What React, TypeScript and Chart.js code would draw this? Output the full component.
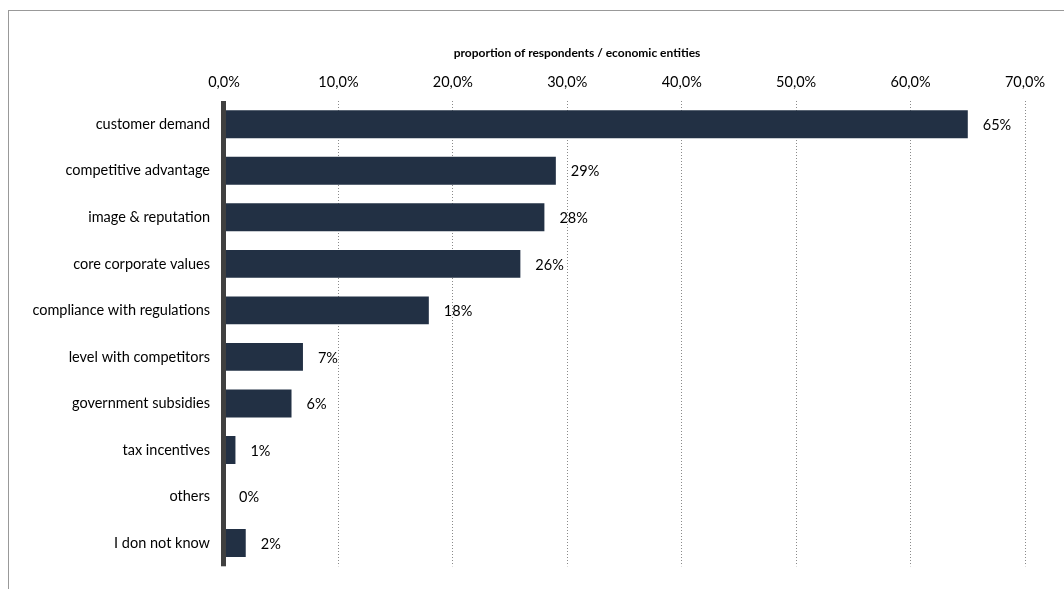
import React, { useEffect, useRef } from "react";
import { Chart, registerables } from "chart.js";

Chart.register(...registerables);

const categories = [
  "customer demand",
  "competitive advantage",
  "image & reputation",
  "core corporate values",
  "compliance with regulations",
  "level with competitors",
  "government subsidies",
  "tax incentives",
  "others",
  "I don not know",
];
const values = [65.0, 29.0, 28.0, 25.9, 17.9, 6.9, 5.9, 1.0, 0, 1.9];
const valueLabels = ["65%", "29%", "28%", "26%", "18%", "7%", "6%", "1%", "0%", "2%"];
const axisTitle = "proportion of respondents / economic entities";

const FONT = "Lato, 'Open Sans', sans-serif";

export default function App() {
  const ref = useRef<HTMLCanvasElement>(null);
  useEffect(() => {
    if (!ref.current) return;
    const extras = {
      id: "extras",
      afterDatasetsDraw(chart: any) {
        const ctx = chart.ctx;
        const xs = chart.scales.x;
        const ys = chart.scales.y;
        const area = chart.chartArea;
        ctx.save();
        ctx.fillStyle = "#000";
        ctx.font = `14.5px ${FONT}`;
        ctx.textAlign = "left";
        ctx.textBaseline = "middle";
        values.forEach((v, i) => {
          const x = xs.getPixelForValue(v) + 15;
          const y = ys.getPixelForValue(i) + 1;
          ctx.fillText(valueLabels[i], x, y);
        });
        const x0 = xs.getPixelForValue(0);
        ctx.fillStyle = "#404040";
        ctx.fillRect(x0 - 3, area.top, 5, area.bottom - area.top);
        ctx.fillStyle = "#000";
        ctx.font = `bold 12px ${FONT}`;
        ctx.textAlign = "center";
        ctx.textBaseline = "middle";
        ctx.fillText(axisTitle, 577, 53);
        ctx.restore();
      },
    };
    const chart = new Chart(ref.current, {
      type: "bar",
      data: {
        labels: categories,
        datasets: [
          {
            data: values,
            backgroundColor: "#223044",
            borderWidth: 0,
            barPercentage: 0.6,
            categoryPercentage: 1,
          },
        ],
      },
      options: {
        indexAxis: "y",
        animation: false,
        responsive: false,
        maintainAspectRatio: false,
        layout: { padding: { left: 0, top: 0, right: 39, bottom: 20 } },
        plugins: { legend: { display: false }, tooltip: { enabled: false } },
        scales: {
          x: {
            position: "top",
            min: 0,
            max: 70,
            ticks: {
              stepSize: 10,
              color: "#000",
              font: { family: FONT, size: 14.5 },
              padding: 10,
              maxRotation: 0,
              callback: (v: any) => Number(v).toFixed(1).replace(".", ",") + "%",
            },
            grid: {
              drawTicks: false,
              color: (c: any) => (c.tick && c.tick.value === 0 ? "rgba(0,0,0,0)" : "#8a8a8a"),
              lineWidth: 1,
            },
            border: { display: false, dash: [1, 2] },
            afterFit: (s: any) => {
              s.height = 101;
            },
          },
          y: {
            ticks: {
              color: "#000",
              font: { family: FONT, size: 14.5 },
              padding: 14,
            },
            grid: { display: false, drawTicks: false },
            border: { display: false },
            afterFit: (s: any) => {
              s.width = 224;
            },
          },
        },
      },
      plugins: [extras],
    } as any);
    return () => chart.destroy();
  }, []);
  return (
    <div style={{ position: "absolute", left: 0, top: 0, width: 1064, height: 589, background: "#fff" }}>
      <div
        style={{
          position: "absolute",
          left: 8,
          top: 10,
          right: -2,
          bottom: -2,
          borderLeft: "1px solid #999",
          borderTop: "1px solid #999",
        }}
      />
      <canvas ref={ref} width={1064} height={589} style={{ position: "absolute", left: 0, top: 0 }} />
    </div>
  );
}
